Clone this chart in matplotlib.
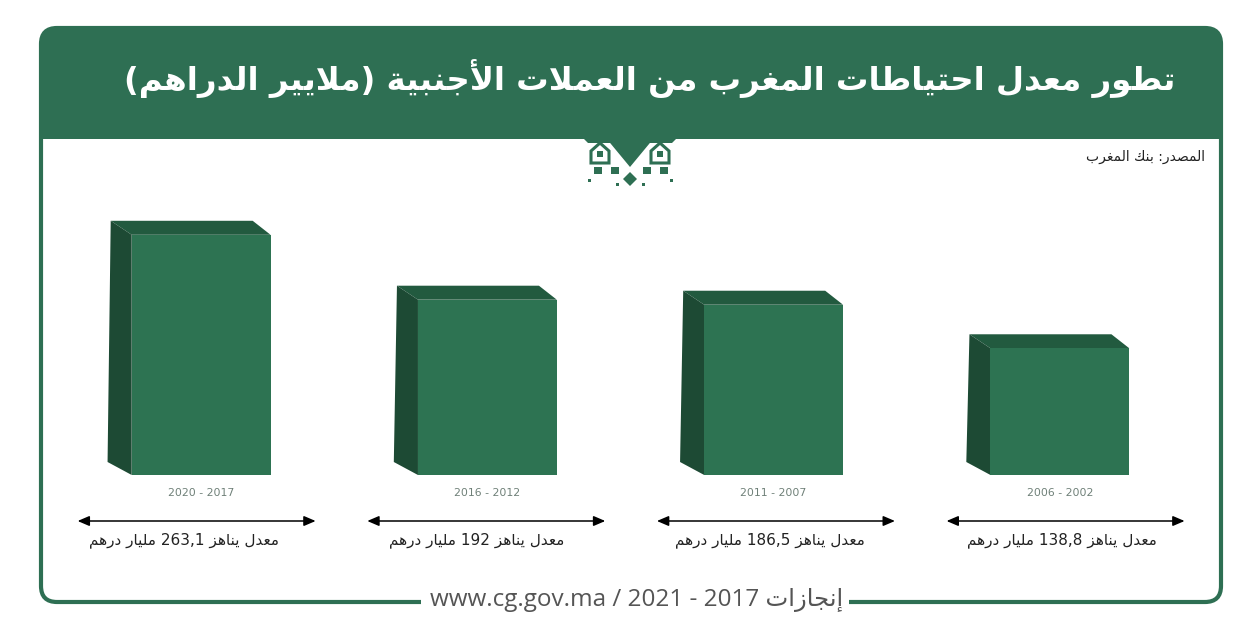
import matplotlib
matplotlib.use("Agg")
import matplotlib.pyplot as plt
from matplotlib.patches import FancyBboxPatch, Rectangle, Polygon
from matplotlib.transforms import blended_transform_factory

# ---- data ----
periods = ["2017 - 2020", "2012 - 2016", "2007 - 2011", "2002 - 2006"]
values = [263.1, 192, 186.5, 138.8]
title = "تطور معدل احتياطات المغرب من العملات الأجنبية (ملايير الدراهم)"
source = "المصدر: بنك المغرب"
footer = "إنجازات 2017 - 2021 / www.cg.gov.ma"
value_template = "معدل يناهز {} مليار درهم"

# ---- minimal Arabic shaping (presentation forms) + RTL word ordering ----
FORMS = {
    'ء': (0xFE80, 1), 'آ': (0xFE81, 2), 'أ': (0xFE83, 2), 'ؤ': (0xFE85, 2),
    'إ': (0xFE87, 2), 'ئ': (0xFE89, 4), 'ا': (0xFE8D, 2), 'ب': (0xFE8F, 4),
    'ة': (0xFE93, 2), 'ت': (0xFE95, 4), 'ث': (0xFE99, 4), 'ج': (0xFE9D, 4),
    'ح': (0xFEA1, 4), 'خ': (0xFEA5, 4), 'د': (0xFEA9, 2), 'ذ': (0xFEAB, 2),
    'ر': (0xFEAD, 2), 'ز': (0xFEAF, 2), 'س': (0xFEB1, 4), 'ش': (0xFEB5, 4),
    'ص': (0xFEB9, 4), 'ض': (0xFEBD, 4), 'ط': (0xFEC1, 4), 'ظ': (0xFEC5, 4),
    'ع': (0xFEC9, 4), 'غ': (0xFECD, 4), 'ف': (0xFED1, 4), 'ق': (0xFED5, 4),
    'ك': (0xFED9, 4), 'ل': (0xFEDD, 4), 'م': (0xFEE1, 4), 'ن': (0xFEE5, 4),
    'ه': (0xFEE9, 4), 'و': (0xFEED, 2), 'ى': (0xFEEF, 2), 'ي': (0xFEF1, 4),
}
LAM_ALEF = {'آ': 0xFEF5, 'أ': 0xFEF7, 'إ': 0xFEF9, 'ا': 0xFEFB}


def _shape(word):
    units, i = [], 0
    while i < len(word):
        c = word[i]
        if c == 'ل' and i + 1 < len(word) and word[i + 1] in LAM_ALEF:
            units.append(('LA', word[i + 1]))
            i += 2
        else:
            units.append(('C', c))
            i += 1

    def joins_next(u):
        return u is not None and u[0] == 'C' and u[1] in FORMS and FORMS[u[1]][1] == 4

    def joins_prev(u):
        return u is not None and (u[0] == 'LA' or (u[1] in FORMS and FORMS[u[1]][1] > 1))

    out = []
    for k, (kind, c) in enumerate(units):
        prev = units[k - 1] if k > 0 else None
        nxt = units[k + 1] if k + 1 < len(units) else None
        p = joins_next(prev)
        if kind == 'LA':
            out.append(chr(LAM_ALEF[c] + (1 if p else 0)))
            continue
        if c not in FORMS:
            out.append(c)
            continue
        base, n = FORMS[c]
        nx = joins_prev(nxt)
        if n == 1:
            out.append(chr(base))
        elif n == 2:
            out.append(chr(base + 1 if p else base))
        else:
            f = 3 if (p and nx) else 2 if nx else 1 if p else 0
            out.append(chr(base + f))
    return ''.join(out)


def rtl(text):
    res = []
    for w in reversed(text.split(' ')):
        if any(ch in FORMS for ch in w):
            s = _shape(w)[::-1].translate(str.maketrans('()', ')('))
        else:
            s = w
        res.append(s)
    return ' '.join(res)


# ---- colours ----
GREEN = "#2e6f53"
FRONT = "#2d7352"
TOP = "#225a3f"
SIDE = "#1d4a34"
AR_FONT = ["DejaVu Sans"]

W, H = 1253, 633
fig = plt.figure(figsize=(W / 100, H / 100), dpi=100)
fig.patch.set_facecolor("white")

# background layer in pixel coordinates (y downwards)
bg = fig.add_axes([0, 0, 1, 1])
bg.set_xlim(0, W)
bg.set_ylim(H, 0)
bg.axis("off")

L, R, T, B = 41, 1221, 28, 602
# header block
bg.add_patch(FancyBboxPatch((L, T), R - L, 150, boxstyle="round,pad=0,rounding_size=16",
                            facecolor=GREEN, edgecolor="none", zorder=1))
bg.add_patch(Rectangle((L + 1, 139), R - L - 2, 50, facecolor="white", edgecolor="none", zorder=2))
# frame outline
bg.add_patch(FancyBboxPatch((L, T), R - L, B - T, boxstyle="round,pad=0,rounding_size=16",
                            facecolor="none", edgecolor=GREEN, linewidth=3.0, zorder=3))

bg.text(650, 79, rtl(title), color="white", fontsize=23.3, fontweight="bold",
        family=AR_FONT, ha="center", va="center", zorder=5)

# hanging ornament under the header
orn = dict(facecolor=GREEN, edgecolor="none", zorder=4)
bg.add_patch(Polygon([(583, 138), (677, 138), (672, 143), (588, 143)], **orn))
bg.add_patch(Polygon([(606, 138), (654, 138), (630, 167)], **orn))
for cx in (600, 660):
    bg.add_patch(Polygon([(cx - 9, 163), (cx - 9, 151), (cx, 143), (cx + 9, 151), (cx + 9, 163)],
                         facecolor="white", edgecolor=GREEN, linewidth=2.2, zorder=4))
    bg.add_patch(Rectangle((cx - 3, 151), 6, 6, **orn))
for sx in (594, 611, 643, 660):
    bg.add_patch(Rectangle((sx, 167), 8, 7, **orn))
bg.add_patch(Polygon([(630, 172), (637, 179), (630, 186), (623, 179)], **orn))
for dx, dy in ((589, 180), (671, 180), (617, 184), (643, 184)):
    bg.add_patch(Rectangle((dx - 1.5, dy - 1.5), 3, 3, **orn))

bg.text(1205, 157, rtl(source), color="#222222", fontsize=10, family=AR_FONT,
        ha="right", va="center", zorder=5)

# footer on the bottom rule
bg.add_patch(Rectangle((421, 590), 428, 24, facecolor="white", edgecolor="none", zorder=4))
bg.text(637, 600, rtl(footer), color="#555555", fontsize=17.5,
        family=["Open Sans", "DejaVu Sans"], ha="center", va="center", zorder=5)

# ---- bars ----
base_px, top_px = 475, 200
px_per_unit = 0.913
ax = fig.add_axes([58 / W, (H - base_px) / H, 1145 / W, (base_px - top_px) / H])
ax.set_xlim(-0.5, 3.5)
ax.set_ylim(0, (base_px - top_px) / px_per_unit)
ax.axis("off")
ax.patch.set_alpha(0)

bw = 0.485
xs = list(range(len(values)))
ax.bar(xs, values, width=bw, color=FRONT, zorder=3)

px_x = 1145 / 4
ddx = -21 / px_x
ddy = 14 / px_per_unit
for x, v in zip(xs, values):
    x0, x1 = x - bw / 2, x + bw / 2
    ax.add_patch(Polygon([(x0, v), (x1, v), (x1 + ddx * 0.85, v + ddy), (x0 + ddx, v + ddy)],
                         facecolor=TOP, edgecolor="none", zorder=2))
    ax.add_patch(Polygon([(x0, 0), (x0, v), (x0 + ddx, v + ddy), (x0 + ddx * 1.15, 13 / px_per_unit)],
                         facecolor=SIDE, edgecolor="none", zorder=2))

# labels beneath each bar: x from data, y in pixels; the label row is spread
# slightly wider than the bar row
tr = blended_transform_factory(ax.transData, bg.transData)
half = 119 / px_x
for x, per, v in zip(xs, periods, values):
    arrow_c = x + (-4.5 + 3.4 * x) / px_x
    text_c = x + (-17 + 6.5 * x) / px_x
    ax.text(x, 493, rtl(per), transform=tr, color="#6f8078", fontsize=7.8,
            ha="center", va="center", clip_on=False)
    ax.annotate("", xy=(arrow_c - half, 521), xytext=(arrow_c + half, 521),
                xycoords=tr, textcoords=tr,
                arrowprops=dict(arrowstyle="<|-|>,head_length=0.7,head_width=0.3",
                                color="black", lw=1.1, shrinkA=0, shrinkB=0))
    num = f"{v:g}".replace(".", ",")
    ax.text(text_c, 540, rtl(value_template.format(num)), transform=tr, color="#222222",
            fontsize=11, family=AR_FONT, ha="center", va="center", clip_on=False)

fig.savefig("out.png", dpi=100, facecolor="white")
